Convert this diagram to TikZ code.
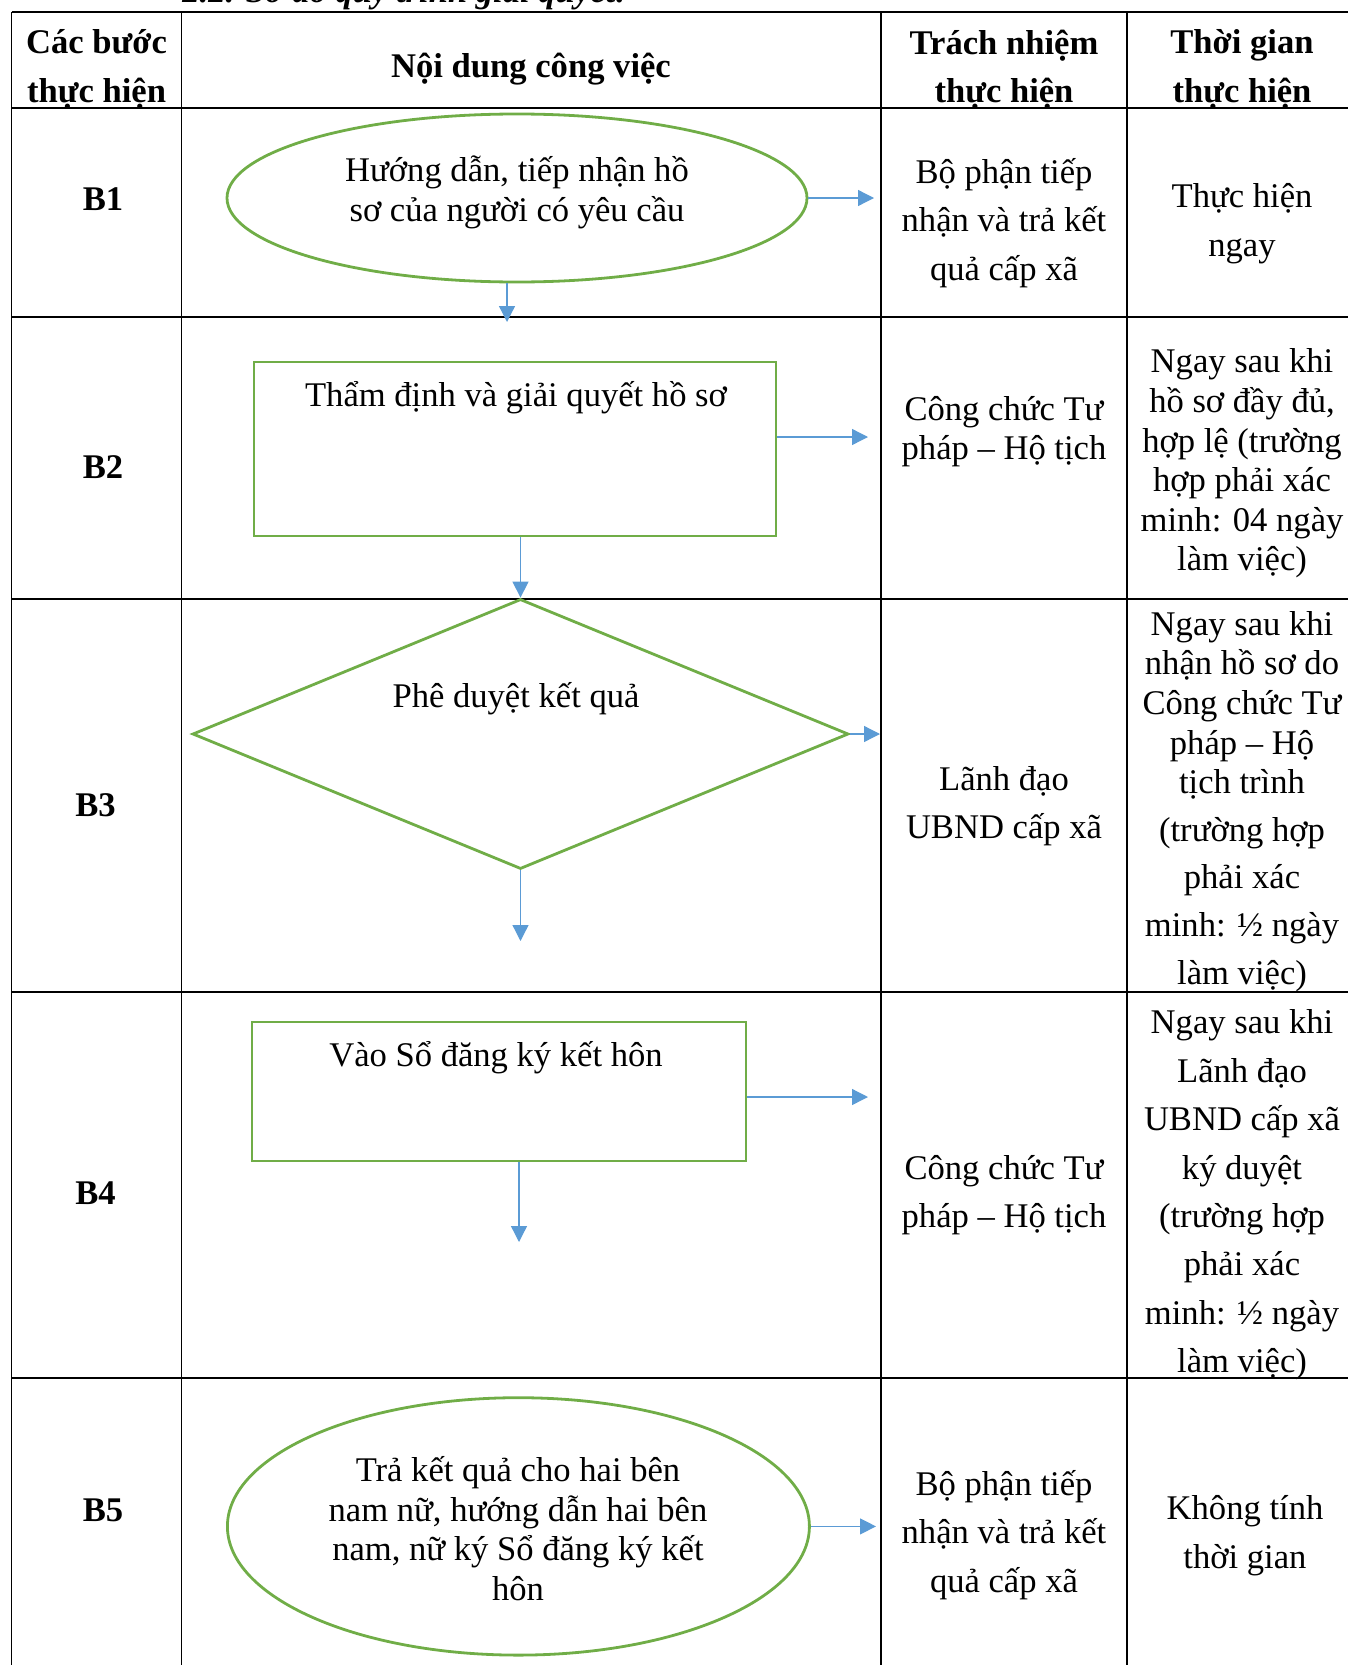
\documentclass[tikz,border=0pt]{standalone}
\usepackage{fontspec}
\setmainfont{Liberation Serif}
\usetikzlibrary{arrows.meta,shapes.geometric}
\definecolor{boxgreen}{HTML}{70AD47}
\definecolor{flowblue}{HTML}{5B9BD5}

\begin{document}
\begin{tikzpicture}[x=0.5pt,y=-0.5pt,>={Triangle[length=8pt,width=8pt]},
  grid/.style={line width=0.65pt},
  shapebox/.style={draw=boxgreen,line width=1.4pt,inner sep=0pt},
  flow/.style={->,draw=flowblue,fill=flowblue,line width=0.65pt},
  head/.style={font=\fontsize{17.3}{24.2}\selectfont\bfseries,align=center,inner sep=0pt,yshift=-1.75pt},
  tight/.style={font=\fontsize{17.3}{19.8}\selectfont,align=center,inner sep=0pt,yshift=-1.75pt},
  wide/.style={font=\fontsize{17.3}{24.2}\selectfont,align=center,inner sep=0pt,yshift=-1.75pt}]
\useasboundingbox (0,0) rectangle (1348,1665);
\clip (0,0) rectangle (1348,1665);
\node[anchor=base west,inner sep=0pt,font=\fontsize{17.3}{20}\selectfont\bfseries\itshape] (title) at (182,3) {2.2. Sơ đồ quy trình giải quyết:};
\foreach \y in {12,108,317,599,992,1378}
  \draw[grid] (11.5,\y) -- (1348,\y);
\foreach \x in {11.5,181.5,881,1127}
  \draw[grid] (\x,12) -- (\x,1665);
\node[head] (h1) at (96.6,66) {Các bước\\thực hiện};
\node[head] (h2) at (531,66) {Nội dung công việc};
\node[head] (h3) at (1004,66) {Trách nhiệm\\thực hiện};
\node[head] (h4) at (1242,66) {Thời gian\\thực hiện};
\node[head] (s1) at (103,196) {B1};
\node[head] (s2) at (103,464) {B2};
\node[head] (s3) at (95.6,802) {B3};
\node[head] (s4) at (95.6,1190) {B4};
\node[head] (s5) at (103,1507) {B5};
\node[shapebox,ellipse,minimum width=290pt,minimum height=84pt] (b1) at (517,198) {};
\node[tight] (b1txt) at (517,189) {Hướng dẫn, tiếp nhận hồ\\sơ của người có yêu cầu};
\node[shapebox,rectangle,minimum width=261pt,minimum height=87pt] (b2) at (515,449) {};
\node[tight] (b2txt) at (516,394) {Thẩm định và giải quyết hồ sơ};
\node[shapebox,diamond,minimum width=328pt,minimum height=135pt] (b3) at (520.5,734) {};
\node[tight] (b3txt) at (516,695) {Phê duyệt kết quả};
\node[shapebox,rectangle,minimum width=247pt,minimum height=69.5pt] (b4) at (499,1091.5) {};
\node[tight] (b4txt) at (496,1054) {Vào Sổ đăng ký kết hôn};
\node[shapebox,ellipse,minimum width=291pt,minimum height=128.7pt] (b5) at (518.4,1526.4) {};
\node[tight] (b5txt) at (518,1525) {Trả kết quả cho hai bên\\nam nữ, hướng dẫn hai bên\\nam, nữ ký Sổ đăng ký kết\\hôn};
\coordinate (e1) at (874,198);
\coordinate (e1d) at (507,322);
\coordinate (e2) at (868,437);
\coordinate (e3) at (880,734);
\coordinate (e3d) at (520.5,941);
\coordinate (e4) at (868,1097);
\coordinate (e4d) at (519,1242);
\coordinate (e5) at (876,1526.4);
\draw[flow] (b1.east) -- (e1);
\draw[flow] ([xshift=-5pt]b1.south) -- (e1d);
\draw[flow] ([yshift=6pt]b2.east) -- (e2);
\draw[flow] (b2.south -| b3.north) -- (b3.north);
\draw[flow] (b3.east) -- (e3);
\draw[flow] (b3.south) -- (e3d);
\draw[flow] ([yshift=-2.75pt]b4.east) -- (e4);
\draw[flow] ([xshift=10pt]b4.south) -- (e4d);
\draw[flow] (b5.east) -- (e5);
\node[wide] (c1) at (1004,219.5) {Bộ phận tiếp\\nhận và trả kết\\quả cấp xã};
\node[tight] (c2) at (1004,428) {Công chức Tư\\pháp – Hộ tịch};
\node[wide] (c3) at (1004,802.6) {Lãnh đạo\\UBND cấp xã};
\node[wide] (c4) at (1004,1191.4) {Công chức Tư\\pháp – Hộ tịch};
\node[wide] (c5) at (1004,1531.5) {Bộ phận tiếp\\nhận và trả kết\\quả cấp xã};
\node[wide] (t1) at (1242,220) {Thực hiện\\ngay};
\node[tight] (t2) at (1242,460) {Ngay sau khi\\hồ sơ đầy đủ,\\hợp lệ (trường\\hợp phải xác\\minh: 04 ngày\\làm việc)};
\node[tight] (t3) at (1242,797.8) {Ngay sau khi\\nhận hồ sơ do\\Công chức Tư\\pháp – Hộ\\tịch trình\\[4pt](trường hợp\\[4pt]phải xác\\[4pt]minh: ½ ngày\\[4pt]làm việc)};
\node[wide] (t4) at (1242,1191.4) {Ngay sau khi\\Lãnh đạo\\UBND cấp xã\\ký duyệt\\(trường hợp\\phải xác\\minh: ½ ngày\\làm việc)};
\node[wide] (t5) at (1245,1532) {Không tính\\thời gian};
\end{tikzpicture}
\end{document}
